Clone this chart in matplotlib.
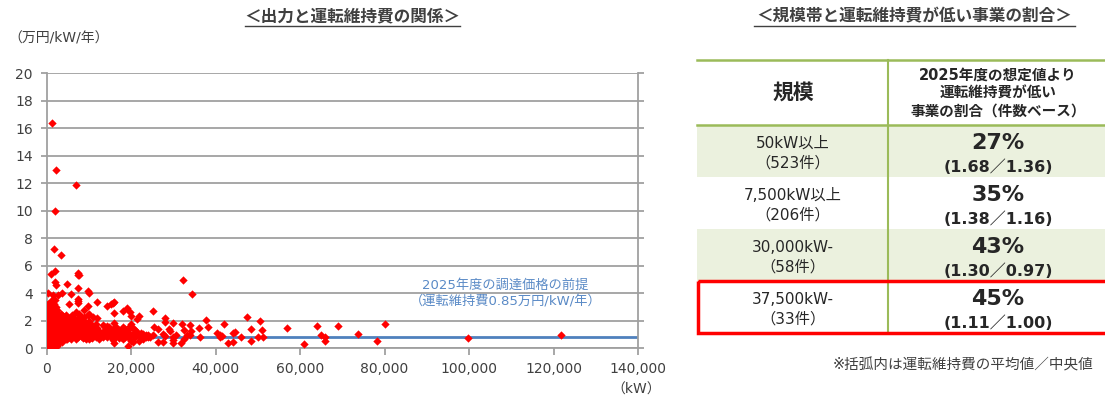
import matplotlib.pyplot as plt
from matplotlib.patches import Rectangle
from matplotlib.ticker import FuncFormatter

plt.rcParams['font.family'] = ['DejaVu Sans', 'Noto Sans CJK JP']

# output (kW) -> list of operating & maintenance costs (万円/kW/年)
plant_groups = [
    (200, [0.1, 0.5, 1.0, 1.6, 2.2, 2.9, 3.2]),
    (400, [0.3, 0.8, 1.3, 1.9, 2.5, 3.0, 4.0]),
    (600, [0.05, 0.6, 1.1, 1.5, 2.0, 2.7, 3.3]),
    (800, [0.2, 0.4, 0.9, 1.2, 1.7, 2.3, 2.8, 3.1]),
    (1000, [0.1, 0.7, 1.0, 1.4, 1.8, 2.1, 2.6, 3.4, 5.4]),
    (1200, [0.3, 0.6, 0.9, 1.3, 1.6, 2.0, 2.4, 3.0, 16.4]),
    (1400, [0.15, 0.5, 0.8, 1.1, 1.5, 1.9, 2.2, 2.7, 3.9]),
    (1600, [0.4, 0.75, 1.0, 1.25, 1.7, 2.0, 2.5, 2.9, 3.6]),
    (1800, [0.0, 0.55, 0.9, 1.2, 1.45, 1.8, 2.3, 3.2, 7.25]),
    (2000, [0.3, 0.65, 1.05, 1.35, 1.6, 2.1, 2.6, 3.5, 4.8, 5.6, 9.95]),
    (2200, [0.45, 0.85, 1.15, 1.5, 1.9, 2.4, 3.0, 4.6, 13.0]),
    (2400, [0.2, 0.7, 1.0, 1.3, 1.75, 2.2, 2.8]),
    (2700, [0.5, 0.95, 1.25, 1.6, 2.05, 2.5, 3.9]),
    (3000, [0.35, 0.8, 1.1, 1.45, 1.85, 2.3]),
    (3300, [0.6, 0.9, 1.3, 1.7, 2.5, 6.75]),
    (3700, [0.45, 0.85, 1.2, 1.55, 2.0, 2.45, 4.0]),
    (4100, [0.7, 0.95, 1.3, 1.6, 2.3]),
    (4500, [0.65, 1.05, 1.45, 1.9, 2.4]),
    (4900, [0.7, 0.95, 1.3, 1.9, 4.7]),
    (5300, [0.85, 1.2, 1.55, 2.1, 3.2]),
    (5700, [0.7, 1.2, 1.65, 2.3, 3.95]),
    (6100, [0.8, 1.1, 1.5, 1.9, 2.4]),
    (6500, [0.9, 1.35, 1.9, 2.2]),
    (6900, [0.7, 1.05, 1.6, 2.65, 11.9]),
    (7300, [0.95, 1.35, 1.8, 2.2, 3.3, 3.6]),
    (7500, [0.8, 1.2, 1.7, 2.0, 3.45, 4.4, 5.3, 5.45]),
    (7700, [1.05, 1.5, 2.05, 2.5, 5.35]),
    (8100, [0.9, 1.25, 1.55, 1.9, 2.3]),
    (8500, [0.75, 1.15, 1.7, 2.05]),
    (8900, [0.85, 1.3, 1.6, 2.3, 2.8]),
    (9300, [0.7, 1.05, 1.2, 1.45, 1.85]),
    (9700, [0.85, 1.25, 1.8, 2.4, 3.05, 4.2]),
    (10000, [0.65, 1.1, 1.5, 2.0, 2.5, 4.0]),
    (10400, [0.8, 1.2, 1.4]),
    (10700, [0.75, 1.05, 1.7]),
    (11000, [0.95, 1.2, 1.55, 2.25]),
    (11600, [0.8, 1.05, 1.3, 1.75]),
    (12000, [0.9, 1.15, 1.5, 2.2, 3.4]),
    (12500, [0.7, 1.0, 1.25]),
    (13300, [0.85, 1.2, 1.7]),
    (13800, [1.0, 1.35, 1.55]),
    (14300, [0.85, 1.1, 1.6, 3.05]),
    (14800, [0.95, 1.3, 1.55]),
    (15200, [0.85, 1.2, 3.25]),
    (15600, [0.6, 1.0, 1.4, 3.3]),
    (16000, [0.35, 0.8, 1.3, 1.85, 2.55, 3.35]),
    (16400, [0.9, 1.15, 1.55]),
    (17000, [0.75, 1.05, 1.35]),
    (17500, [0.8, 1.2]),
    (18000, [0.7, 1.1, 1.55, 2.7]),
    (18500, [0.85, 1.05, 1.4]),
    (18900, [0.9, 2.95]),
    (19300, [0.2, 0.85, 1.3]),
    (19700, [1.0, 1.6, 2.65]),
    (20000, [0.5, 0.95, 1.8, 2.35]),
    (20500, [0.45, 1.05, 1.5]),
    (21000, [0.8, 1.35]),
    (21400, [0.95, 1.2, 2.1]),
    (21900, [0.55, 2.35]),
    (22300, [0.9, 1.1]),
    (22800, [0.65, 1.05]),
    (23500, [0.85, 0.95]),
    (24100, [0.8, 0.95]),
    (24500, [0.85]),
    (25100, [0.95, 2.7]),
    (25400, [1.55]),
    (26300, [0.45, 1.4]),
    (27500, [0.45, 1.05]),
    (27900, [0.9, 1.9, 2.2]),
    (28900, [1.4]),
    (29200, [1.25]),
    (30000, [0.35, 0.6, 0.8, 1.85]),
    (30500, [0.95]),
    (31800, [0.4]),
    (32000, [1.75]),
    (32300, [5.0]),
    (32600, [0.65, 1.35]),
    (33300, [0.95]),
    (33900, [1.0, 1.7]),
    (34200, [1.25]),
    (34500, [3.95]),
    (36000, [1.45]),
    (36300, [0.85]),
    (37600, [2.05]),
    (38100, [1.55]),
    (40400, [1.1]),
    (41000, [0.8, 0.95]),
    (41500, [0.9]),
    (42000, [1.75]),
    (43000, [0.4]),
    (44000, [0.45, 1.1]),
    (44600, [1.15]),
    (46000, [0.85]),
    (47500, [2.25]),
    (48400, [0.55, 1.4]),
    (50100, [0.85]),
    (50400, [2.0]),
    (51000, [1.3]),
    (51300, [0.85]),
    (57000, [1.45]),
    (60900, [0.3]),
    (63900, [1.6]),
    (64900, [1.0]),
    (66000, [0.55, 0.8]),
    (68900, [1.65]),
    (73700, [1.05]),
    (78100, [0.55]),
    (80000, [1.8]),
    (99700, [0.75]),
    (121700, [0.95]),
]
target_cost = 0.85

# table on the right
scale_labels = ['50kW以上', '7,500kW以上', '30,000kW-', '37,500kW-']
project_counts = [523, 206, 58, 33]
low_cost_share = [27, 35, 43, 45]
mean_cost = [1.68, 1.38, 1.30, 1.11]
median_cost = [1.36, 1.16, 0.97, 1.00]

xs = [kw for kw, vals in plant_groups for _ in vals]
ys = [v for _, vals in plant_groups for v in vals]

W, H = 1105, 397
fig = plt.figure(figsize=(W / 100, H / 100), dpi=100)
grey = '#a0a0a0'
text_c = '#404040'

ax = fig.add_axes([46.7 / W, 1 - 348.3 / H, (638 - 46.7) / W, (348.3 - 73.3) / H])
ax.scatter(xs, ys, marker='D', s=18, color='#ff0000', linewidths=0, zorder=3)
ax.axhline(target_cost, color='#4f81bd', lw=2, zorder=2)
ax.set_xlim(0, 140000)
ax.set_ylim(0, 20)
ax.set_xticks(range(0, 140001, 20000))
ax.set_yticks(range(0, 21, 2))
ax.xaxis.set_major_formatter(FuncFormatter(lambda v, p: f'{int(v):,}'))
ax.grid(axis='y', color=grey, lw=1.3)
ax.set_axisbelow(True)
ax.spines['top'].set_visible(False)
for s in ['left', 'bottom', 'right']:
    ax.spines[s].set_color(grey)
    ax.spines[s].set_linewidth(1.3)
ax.tick_params(axis='y', direction='out', length=4, width=1.3, color=grey,
               labelsize=10, labelcolor=text_c, pad=6, right=True)
ax.tick_params(axis='x', direction='out', length=5, width=1.3, color=grey,
               labelsize=10, labelcolor=text_c, pad=5)
ax.text(108600, 4.55, '2025年度の調達価格の前提', ha='center', va='center',
        fontsize=9.5, color='#5a8ac6')
ax.text(108600, 3.4, '（運転維持費0.85万円/kW/年）', ha='center', va='center',
        fontsize=9.5, color='#5a8ac6')

# overlay in pixel coordinates for titles and the table
ov = fig.add_axes([0, 0, 1, 1])
ov.set_xlim(0, W)
ov.set_ylim(H, 0)
ov.axis('off')

ov.text(352, 16, '＜出力と運転維持費の関係＞', ha='center', va='center',
        fontsize=12, fontweight='bold', color=text_c)
ov.plot([245, 460], [26, 26], color=text_c, lw=1)
ov.text(8, 38, '（万円/kW/年）', ha='left', va='center', fontsize=10, color=text_c)
ov.text(636, 390, '（kW）', ha='center', va='center', fontsize=10, color=text_c)

ov.text(914, 16, '＜規模帯と運転維持費が低い事業の割合＞', ha='center', va='center',
        fontsize=12, fontweight='bold', color=text_c)
ov.plot([754, 1075], [26, 26], color=text_c, lw=1)

green = '#9bbb59'
tx0, tx1, col_div = 697, W + 2, 888
c1, c2 = 793, 998
head_top, head_bot, row_h = 60, 125, 52

for i in range(len(scale_labels)):
    top = head_bot + i * row_h
    if i % 2 == 0:
        ov.add_patch(Rectangle((tx0, top), tx1 - tx0, row_h, color='#ebf1de', lw=0, zorder=0))
    ov.text(c1, top + 18, scale_labels[i], ha='center', va='center', fontsize=11, color='#262626')
    ov.text(c1, top + 38, f'（{project_counts[i]}件）', ha='center', va='center',
            fontsize=11, color='#262626')
    ov.text(c2, top + 18, f'{low_cost_share[i]}%', ha='center', va='center',
            fontsize=16, fontweight='bold', color='#262626')
    ov.text(c2, top + 42, f'({mean_cost[i]:.2f}／{median_cost[i]:.2f})', ha='center',
            va='center', fontsize=11.5, fontweight='bold', color='#262626')

table_bot = head_bot + len(scale_labels) * row_h
ov.plot([tx0, tx1], [head_top, head_top], color=green, lw=1.8, zorder=1)
ov.plot([tx0, tx1], [head_bot, head_bot], color=green, lw=1.8, zorder=1)
ov.plot([col_div, col_div], [head_top, table_bot], color=green, lw=1.5, zorder=1)

ov.text(c1, 93, '規模', ha='center', va='center', fontsize=15, fontweight='bold', color='#262626')
for k, line in enumerate(['2025年度の想定値より', '運転維持費が低い', '事業の割合（件数ベース）']):
    ov.text(c2, 75 + k * 18, line, ha='center', va='center', fontsize=10.5,
            fontweight='bold', color='#262626')

last_top = head_bot + (len(scale_labels) - 1) * row_h
ov.add_patch(Rectangle((698, last_top), W + 5 - 698, row_h, fill=False,
                       ec='#ff0000', lw=2.5, zorder=2))

ov.text(1093, 365, '※括弧内は運転維持費の平均値／中央値', ha='right', va='center',
        fontsize=10.5, color=text_c)

fig.savefig('out.png', dpi=100)
